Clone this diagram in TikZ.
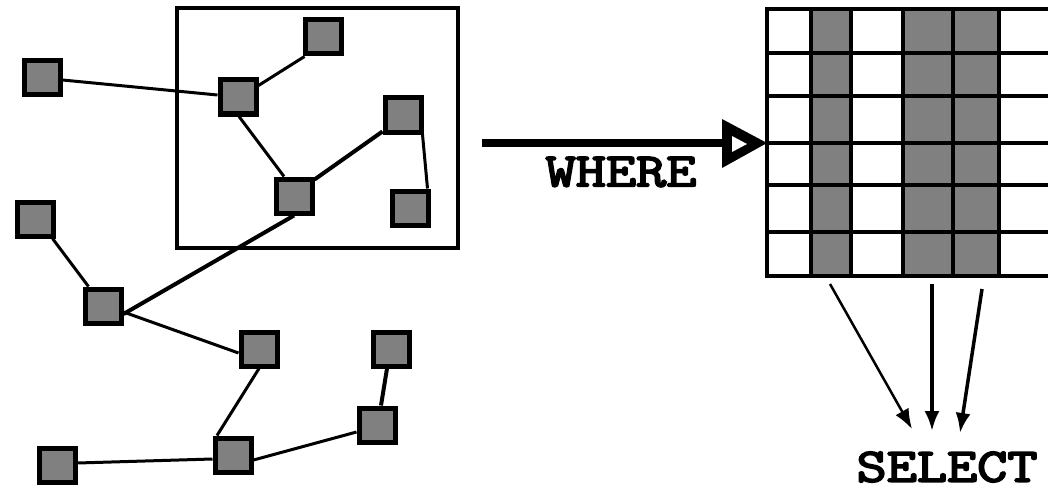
\documentclass[tikz,border=0pt]{standalone}
\usepackage{fontspec}
\newfontfamily\labfont{Latin Modern Mono}[FakeBold=3.5]
\usetikzlibrary{arrows.meta}
\definecolor{boxgray}{HTML}{808080}
\tikzset{
  sq/.style={rectangle, draw=black, line width=5pt, fill=boxgray,
    minimum width=36pt, minimum height=34pt, inner sep=0pt},
  link/.style={line width=3pt},
  thicklink/.style={line width=4pt},
  gridline/.style={line width=4.5pt},
  sel/.style={-{Latex[length=20pt,width=15pt]}},
  lab/.style={font=\labfont\fontsize{48}{48}\selectfont, inner sep=0pt, xscale=1.22, transform shape}
}
\begin{document}
\begin{tikzpicture}[x=1pt,y=-1pt]
\useasboundingbox (0,0) rectangle (1048,492);
% frame around the selected subgraph
\draw[line width=4pt] (177,8) rectangle (458,248);
% nodes
\node[sq] (s1) at (42,78) {};
\node[sq] (s2) at (323,37) {};
\node[sq] (s3) at (238,97) {};
\node[sq] (s4) at (403,115) {};
\node[sq] (s5) at (294,196) {};
\node[sq] (s6) at (410,208) {};
\node[sq] (s7) at (35,219) {};
\node[sq] (s8) at (103,306) {};
\node[sq] (s9) at (259,349) {};
\node[sq] (s10) at (391,349) {};
\node[sq] (s11) at (377,425) {};
\node[sq] (s12) at (233,455) {};
\node[sq] (s13) at (57,465) {};
% edges
\draw[link] (s1.east) ++(0,2) -- ([yshift=2pt]s3.west);
\draw[link] (s3.north east) ++(0,8) -- ([xshift=2pt]s2.south west);
\draw[link] ([xshift=1pt]s3.south) -- ([xshift=-10pt]s5.north);
\draw[thicklink] ([yshift=-3pt]s5.north east) -- ([yshift=3pt]s4.south west);
\draw[link] ([xshift=-1pt]s4.south east) -- ([xshift=-3pt]s6.north east);
\draw[thicklink] (s5.south) -- ([yshift=-8pt]s8.east);
\draw[link] ([xshift=-3pt]s7.south east) -- ([xshift=6pt]s8.north west);
\draw[link] ([yshift=-6pt]s8.east) -- ([yshift=-4pt]s9.west);
\draw[link] (s9.south) -- ([xshift=-16pt]s12.north);
\draw[thicklink] ([xshift=-4pt]s10.south) -- ([xshift=4pt]s11.north);
\draw[link] ([yshift=-5pt]s12.east) -- ([yshift=-7pt]s11.west);
\draw[link] ([yshift=2pt]s13.east) -- ([yshift=-4pt]s12.west);
% result table
\fill[boxgray] (811,9) rectangle (851,276);
\fill[boxgray] (903,9) rectangle (999,276);
\foreach \yy in {9,53,96,143,185,232,276}
  \draw[gridline] (765,\yy) -- (1048,\yy);
\foreach \xx in {767,811,851,903,953,999}
  \draw[gridline] (\xx,7) -- (\xx,278);
% WHERE arrow
\coordinate (wstart) at (482,143);
\coordinate (wend) at (724,143);
\coordinate (gridW) at (767,143);
\draw[line width=8pt] (wstart) -- (wend);
\fill[black] (722,119) -- (722,168) -- (gridW) -- cycle;
\fill[white] (732,136) -- (732,152) -- (747,144) -- cycle;
\node[lab] (where) at (621,172) {WHERE};
% SELECT arrows
\coordinate (c1) at (830,284);
\coordinate (c2) at (932,284);
\coordinate (c3) at (982,289);
\coordinate (t1) at (912,429);
\coordinate (t2) at (932,431);
\coordinate (t3) at (960,433);
\draw[sel, line width=2.5pt] (c1) -- (t1);
\draw[sel, line width=3.5pt] (c2) -- (t2);
\draw[sel, line width=3.5pt] (c3) -- (t3);
\node[lab] (select) at (947,467) {SELECT};
\end{tikzpicture}
\end{document}
